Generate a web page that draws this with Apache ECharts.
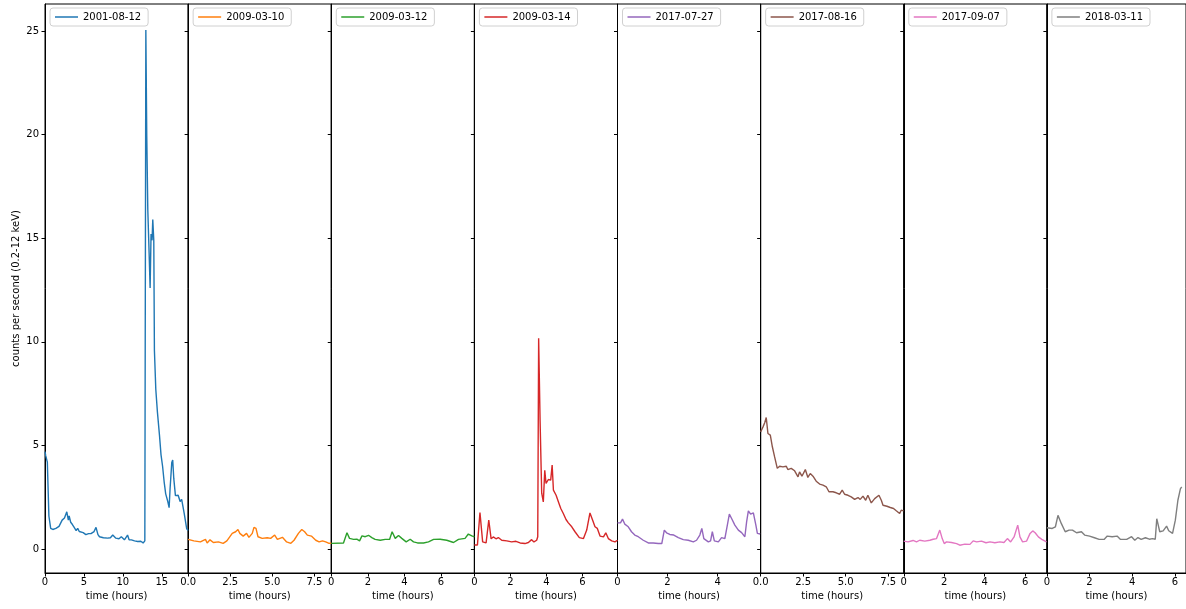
<!DOCTYPE html>
<html>
<head>
<meta charset="utf-8">
<script src="https://cdn.jsdelivr.net/npm/echarts@6/dist/echarts.min.js"></script>
<style>
  html, body { margin: 0; padding: 0; background: #fff; }
  #chart { width: 1186px; height: 609px; }
</style>
</head>
<body>
<div id="chart"></div>
<script>
// Observation dates, one panel each
const dates = ['2001-08-12', '2009-03-10', '2009-03-12', '2009-03-14',
               '2017-07-27', '2017-08-16', '2017-09-07', '2018-03-11'];

// Light curves: [time (hours), counts per second]
const curve20010812 = [[0,4.7],[0.1,4.5],[0.3,4.2],[0.5,1.6],[0.73,1.0],[1.0,0.95],[1.4,1.0],[1.8,1.1],
  [2.2,1.4],[2.5,1.5],[2.8,1.8],[3.0,1.4],[3.1,1.6],[3.3,1.3],[3.5,1.2],[3.75,1.05],[4.0,0.9],[4.2,1.0],
  [4.4,0.85],[4.6,0.9],[4.9,0.8],[5.25,0.7],[5.6,0.75],[5.9,0.75],[6.3,0.85],[6.55,1.05],[6.8,0.7],[7.0,0.6],
  [7.5,0.55],[8.05,0.53],[8.4,0.55],[8.7,0.68],[9.1,0.53],[9.5,0.5],[9.8,0.6],[10.2,0.45],[10.6,0.68],
  [10.8,0.45],[11.1,0.45],[11.5,0.4],[11.9,0.37],[12.3,0.38],[12.6,0.3],[12.75,0.35],[12.82,0.4],
  [12.95,25.05],[13.07,19.9],[13.2,16.4],[13.37,14.3],[13.5,12.6],[13.62,15.2],[13.75,14.9],[13.84,15.9],
  [13.97,14.9],[14.05,9.6],[14.23,7.7],[14.44,6.6],[14.7,5.5],[14.9,4.55],[15.1,4.0],[15.3,3.25],[15.5,2.67],
  [15.77,2.3],[15.94,2.0],[16.06,2.9],[16.28,4.18],[16.4,4.3],[16.54,3.4],[16.75,2.58],[17.1,2.6],[17.35,2.3],
  [17.55,2.4],[17.87,1.74],[18.2,0.98],[18.38,0.9]];
const curve20090310 = [[0,0.47],[0.34,0.4],[0.73,0.35],[1.03,0.47],[1.13,0.3],[1.3,0.45],[1.5,0.32],[1.8,0.35],
  [2.08,0.28],[2.3,0.4],[2.62,0.76],[2.82,0.84],[2.96,0.95],[3.07,0.76],[3.27,0.63],[3.47,0.76],[3.61,0.57],
  [3.81,0.76],[3.91,1.05],[4.03,1.0],[4.15,0.6],[4.4,0.52],[4.7,0.55],[4.9,0.52],[5.14,0.68],[5.3,0.47],
  [5.6,0.57],[5.85,0.35],[6.1,0.28],[6.29,0.43],[6.55,0.76],[6.75,0.95],[6.92,0.84],[7.08,0.68],[7.32,0.63],
  [7.58,0.43],[7.78,0.35],[7.98,0.4],[8.17,0.35],[8.37,0.28],[8.5,0.3]];
const curve20090312 = [[0,0.28],[0.67,0.3],[0.86,0.79],[1.0,0.52],[1.22,0.47],[1.4,0.48],[1.55,0.4],[1.68,0.64],
  [1.86,0.6],[2.04,0.67],[2.22,0.56],[2.4,0.47],[2.68,0.43],[2.95,0.47],[3.19,0.47],[3.33,0.84],[3.5,0.52],
  [3.68,0.66],[3.86,0.52],[4.1,0.35],[4.32,0.48],[4.5,0.35],[4.72,0.3],[5.05,0.3],[5.32,0.35],[5.6,0.47],
  [5.96,0.48],[6.32,0.43],[6.69,0.32],[6.96,0.47],[7.32,0.52],[7.5,0.73],[7.69,0.64],[7.83,0.6]];
const curve20090314 = [[0,0.2],[0.17,0.2],[0.31,1.77],[0.46,0.35],[0.65,0.3],[0.8,1.4],[0.93,0.5],[1.05,0.59],
  [1.2,0.5],[1.33,0.56],[1.52,0.43],[1.8,0.4],[2.07,0.35],[2.31,0.38],[2.54,0.3],[2.81,0.27],[3.0,0.32],
  [3.18,0.46],[3.31,0.35],[3.46,0.43],[3.52,0.6],[3.57,10.17],[3.65,6.2],[3.74,2.7],[3.83,2.28],[3.91,3.8],
  [3.98,3.17],[4.11,3.36],[4.24,3.33],[4.32,4.06],[4.39,2.85],[4.54,2.6],[4.67,2.28],[4.8,1.96],[4.94,1.72],
  [5.09,1.43],[5.22,1.27],[5.41,1.08],[5.59,0.84],[5.83,0.56],[6.06,0.51],[6.24,0.92],[6.42,1.75],[6.57,1.4],
  [6.7,1.08],[6.83,1.0],[6.98,0.63],[7.17,0.59],[7.3,0.79],[7.44,0.51],[7.63,0.4],[7.81,0.35],[7.95,0.43]];
const curve20170727 = [[0,1.27],[0.12,1.27],[0.2,1.45],[0.29,1.21],[0.43,1.08],[0.56,0.84],[0.69,0.68],[0.83,0.6],
  [1.03,0.43],[1.23,0.3],[1.43,0.3],[1.63,0.27],[1.77,0.27],[1.87,0.92],[1.96,0.79],[2.09,0.71],[2.25,0.68],
  [2.43,0.56],[2.63,0.46],[2.83,0.43],[3.03,0.35],[3.16,0.43],[3.29,0.68],[3.37,1.0],[3.45,0.51],[3.63,0.35],
  [3.72,0.4],[3.79,0.84],[3.87,0.4],[4.03,0.35],[4.16,0.56],[4.29,0.51],[4.39,1.16],[4.47,1.69],[4.56,1.48],
  [4.69,1.16],[4.83,0.92],[4.96,0.8],[5.09,0.6],[5.16,1.32],[5.23,1.85],[5.32,1.69],[5.43,1.75],[5.53,1.16],
  [5.59,0.76],[5.7,0.73]];
const curve20170816 = [[0,5.66],[0.14,5.9],[0.24,6.1],[0.33,6.35],[0.43,5.58],[0.57,5.5],[0.69,4.94],[0.82,4.46],
  [0.98,3.9],[1.12,4.0],[1.31,3.97],[1.51,4.0],[1.6,3.84],[1.8,3.9],[2.0,3.78],[2.2,3.49],[2.29,3.73],
  [2.43,3.52],[2.63,3.84],[2.78,3.46],[2.92,3.65],[3.08,3.52],[3.27,3.28],[3.47,3.14],[3.67,3.09],[3.86,3.01],
  [4.02,2.77],[4.25,2.77],[4.45,2.72],[4.65,2.65],[4.8,2.85],[4.94,2.65],[5.14,2.6],[5.33,2.52],[5.53,2.4],
  [5.73,2.49],[5.86,2.4],[6.02,2.56],[6.18,2.36],[6.31,2.6],[6.51,2.23],[6.71,2.44],[6.96,2.6],[7.1,2.36],
  [7.2,2.12],[7.43,2.07],[7.63,2.01],[7.82,1.96],[7.98,1.85],[8.08,1.91],[8.18,1.72],[8.27,1.88],[8.41,1.85]];
const curve20170907 = [[0,0.39],[0.21,0.35],[0.46,0.42],[0.63,0.35],[0.79,0.43],[1.04,0.39],[1.29,0.43],[1.45,0.48],
  [1.62,0.51],[1.78,0.92],[1.9,0.51],[2.0,0.27],[2.11,0.35],[2.36,0.32],[2.61,0.27],[2.77,0.19],[3.02,0.24],
  [3.27,0.23],[3.43,0.4],[3.6,0.35],[3.84,0.39],[4.06,0.31],[4.26,0.35],[4.5,0.31],[4.75,0.35],[4.95,0.32],
  [5.12,0.51],[5.28,0.35],[5.45,0.59],[5.63,1.16],[5.74,0.59],[5.87,0.35],[6.07,0.39],[6.24,0.76],[6.37,0.88],
  [6.49,0.79],[6.65,0.59],[6.82,0.47],[7.05,0.35]];
const curve20180311 = [[0,1.03],[0.25,1.0],[0.4,1.08],[0.52,1.63],[0.68,1.23],[0.86,0.84],[1.04,0.92],[1.2,0.92],
  [1.39,0.79],[1.62,0.84],[1.77,0.68],[2.0,0.63],[2.23,0.55],[2.45,0.47],[2.68,0.47],[2.83,0.63],[3.06,0.6],
  [3.29,0.63],[3.44,0.48],[3.74,0.47],[3.97,0.6],[4.12,0.43],[4.27,0.56],[4.42,0.47],[4.62,0.55],[4.8,0.48],
  [4.95,0.51],[5.08,0.48],[5.15,1.47],[5.29,0.84],[5.45,0.88],[5.61,1.11],[5.71,0.89],[5.89,0.76],[6.02,1.4],
  [6.14,2.36],[6.26,2.92],[6.32,3.0]];

const curves = [curve20010812, curve20090310, curve20090312, curve20090314,
                curve20170727, curve20170816, curve20170907, curve20180311];

// Axis extents and tick labels
const xMax = [18.38, 8.5, 7.83, 7.95, 5.72, 8.42, 7.07, 6.52];
const xTicks = [[0, 5, 10, 15], [0, 2.5, 5, 7.5], [0, 2, 4, 6], [0, 2, 4, 6],
                [0, 2, 4], [0, 2.5, 5, 7.5], [0, 2, 4, 6], [0, 2, 4, 6]];
const xDecimals = [0, 1, 0, 0, 0, 1, 0, 0];
const yTicks = [0, 5, 10, 15, 20, 25];
const yMin = -1.15, yMax = 26.3;

const colors = ['#1f77b4', '#ff7f0e', '#2ca02c', '#d62728', '#9467bd', '#8c564b', '#e377c2', '#7f7f7f'];

const FONT = 'DejaVu Sans';
const panelLeft = 45, panelWidth = 143.125, panelTop = 4, panelBottom = 36;

const grid = [], xAxis = [], yAxis = [], series = [], legend = [];
dates.forEach((d, i) => {
  const left = panelLeft + i * panelWidth;
  grid.push({
    left: left, width: panelWidth, top: panelTop, bottom: panelBottom,
    show: true, borderColor: '#000', borderWidth: 1, backgroundColor: 'transparent'
  });
  xAxis.push({
    type: 'value', gridIndex: i, min: 0, max: xMax[i],
    name: 'time (hours)', nameLocation: 'middle', nameGap: 17,
    nameTextStyle: { fontFamily: FONT, fontSize: 10, color: '#000' },
    splitLine: { show: false },
    axisLine: { show: true, onZero: false, lineStyle: { color: '#000', width: 1 } },
    axisTick: { show: true, inside: false, length: 3.5, customValues: xTicks[i], lineStyle: { color: '#000' } },
    axisLabel: {
      show: true, margin: 4, fontFamily: FONT, fontSize: 10, color: '#000',
      customValues: xTicks[i],
      formatter: v => Number(v).toFixed(xDecimals[i])
    }
  });
  yAxis.push({
    type: 'value', gridIndex: i, min: yMin, max: yMax,
    name: i === 0 ? 'counts per second (0.2-12 keV)' : '',
    nameLocation: 'middle', nameGap: 24,
    nameTextStyle: { fontFamily: FONT, fontSize: 10, color: '#000' },
    splitLine: { show: false },
    axisLine: { show: true, lineStyle: { color: '#000', width: 1 } },
    axisTick: { show: true, inside: false, length: 3.5, customValues: yTicks, lineStyle: { color: '#000' } },
    axisLabel: {
      show: i === 0, margin: 6, fontFamily: FONT, fontSize: 10, color: '#000',
      customValues: yTicks
    }
  });
  series.push({
    name: d, type: 'line', xAxisIndex: i, yAxisIndex: i,
    data: curves[i], symbol: 'none', showSymbol: false,
    lineStyle: { color: colors[i], width: 1.4 }, itemStyle: { color: colors[i] },
    animation: false
  });
  legend.push({
    data: [d], left: left + 5, top: 8, orient: 'vertical',
    icon: 'rect', itemWidth: 23, itemHeight: 1.5,
    padding: [4, 7, 4, 5],
    backgroundColor: 'rgba(255,255,255,0.8)', borderColor: '#d0d0d0', borderWidth: 1, borderRadius: 3,
    textStyle: { fontFamily: FONT, fontSize: 10, color: '#000' },
    selectedMode: false
  });
});

const chart = echarts.init(document.getElementById('chart'), null, { renderer: 'canvas' });
chart.setOption({
  animation: false,
  backgroundColor: '#fff',
  grid, xAxis, yAxis, series, legend
});
</script>
</body>
</html>
